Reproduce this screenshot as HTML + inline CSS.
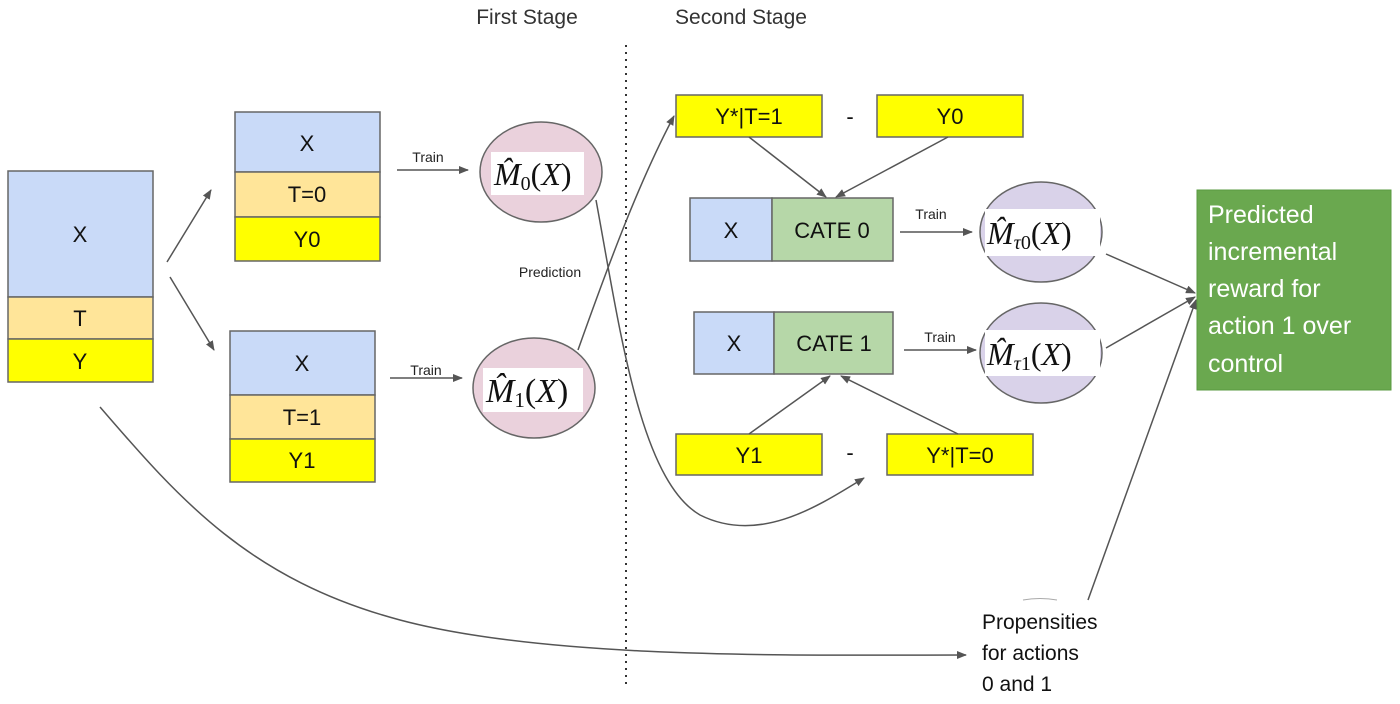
<!DOCTYPE html>
<html><head><meta charset="utf-8"><style>
html,body{margin:0;padding:0;background:#fff;}
svg{display:block;}
.s{font-family:"Liberation Sans",sans-serif;}
.m{font-family:"Liberation Serif",serif;font-style:italic;}
</style></head><body>
<svg width="1400" height="704" viewBox="0 0 1400 704" xmlns="http://www.w3.org/2000/svg">
<defs>
<marker id="a" markerWidth="10" markerHeight="8" refX="9" refY="4" orient="auto" markerUnits="userSpaceOnUse"><path d="M0,0 L10,4 L0,8 z" fill="#555"/></marker>
</defs>
<rect width="1400" height="704" fill="#fff"/>
<g class="s" fill="#222">
<text x="527" y="24" font-size="21" text-anchor="middle" fill="#333">First Stage</text>
<text x="741" y="24" font-size="21" text-anchor="middle" fill="#333">Second Stage</text>
</g>
<line x1="626" y1="45" x2="626" y2="688" stroke="#333" stroke-width="2" stroke-dasharray="2,5"/>

<g stroke="#666" stroke-width="1.5">
<rect x="8" y="171" width="145" height="126" fill="#c9daf8"/>
<rect x="8" y="297" width="145" height="42" fill="#ffe599"/>
<rect x="8" y="339" width="145" height="43" fill="#ffff00"/>
<rect x="235" y="112" width="145" height="60" fill="#c9daf8"/>
<rect x="235" y="172" width="145" height="45" fill="#ffe599"/>
<rect x="235" y="217" width="145" height="44" fill="#ffff00"/>
<rect x="230" y="331" width="145" height="64" fill="#c9daf8"/>
<rect x="230" y="395" width="145" height="44" fill="#ffe599"/>
<rect x="230" y="439" width="145" height="43" fill="#ffff00"/>
<rect x="676" y="95" width="146" height="42" fill="#ffff00"/>
<rect x="877" y="95" width="146" height="42" fill="#ffff00"/>
<rect x="690" y="198" width="82" height="63" fill="#c9daf8"/>
<rect x="772" y="198" width="121" height="63" fill="#b6d7a8"/>
<rect x="694" y="312" width="80" height="62" fill="#c9daf8"/>
<rect x="774" y="312" width="119" height="62" fill="#b6d7a8"/>
<rect x="676" y="434" width="146" height="41" fill="#ffff00"/>
<rect x="887" y="434" width="146" height="41" fill="#ffff00"/>
<ellipse cx="541" cy="172" rx="61" ry="50" fill="#ead1dc"/>
<ellipse cx="534" cy="388" rx="61" ry="50" fill="#ead1dc"/>
<ellipse cx="1041" cy="232" rx="61" ry="50" fill="#d9d2e9"/>
<ellipse cx="1041" cy="353" rx="61" ry="50" fill="#d9d2e9"/>
</g>
<rect x="1197" y="190" width="194" height="200" fill="#6aa84f" stroke="#5a9a40"/>
<rect x="491" y="152" width="93" height="43" fill="#fff"/>
<rect x="483" y="368" width="100" height="44" fill="#fff"/>
<rect x="985" y="209" width="115" height="47" fill="#fff"/>
<rect x="985" y="330" width="115" height="46" fill="#fff"/>

<g class="s" fill="#111" font-size="22" text-anchor="middle">
<text x="80" y="242">X</text>
<text x="80" y="326">T</text>
<text x="80" y="369">Y</text>
<text x="307" y="151">X</text>
<text x="307" y="202">T=0</text>
<text x="307" y="247">Y0</text>
<text x="302" y="371">X</text>
<text x="302" y="425">T=1</text>
<text x="302" y="468">Y1</text>
<text x="749" y="124">Y*|T=1</text>
<text x="850" y="124">-</text>
<text x="950" y="124">Y0</text>
<text x="731" y="238">X</text>
<text x="832" y="238">CATE 0</text>
<text x="734" y="351">X</text>
<text x="834" y="351">CATE 1</text>
<text x="749" y="463">Y1</text>
<text x="850" y="460">-</text>
<text x="960" y="463">Y*|T=0</text>
</g>
<g class="s" fill="#222" font-size="14" text-anchor="middle">
<text x="428" y="162">Train</text>
<text x="426" y="375">Train</text>
<text x="550" y="277">Prediction</text>
<text x="931" y="219">Train</text>
<text x="940" y="342">Train</text>
</g>
<g class="m" fill="#111" font-size="32">
<text x="494" y="185">M̂<tspan font-size="20" font-style="normal" dy="5">0</tspan><tspan dy="-5" font-style="normal">(</tspan>X<tspan font-style="normal">)</tspan></text>
<text x="486" y="402" font-size="34">M̂<tspan font-size="21" font-style="normal" dy="5">1</tspan><tspan dy="-5" font-style="normal">(</tspan>X<tspan font-style="normal">)</tspan></text>
<text x="987" y="244">M̂<tspan font-size="20" dy="5">τ</tspan><tspan font-size="20" font-style="normal">0</tspan><tspan dy="-5" font-style="normal">(</tspan>X<tspan font-style="normal">)</tspan></text>
<text x="987" y="365">M̂<tspan font-size="20" dy="5">τ</tspan><tspan font-size="20" font-style="normal">1</tspan><tspan dy="-5" font-style="normal">(</tspan>X<tspan font-style="normal">)</tspan></text>
</g>
<g class="s" fill="#fff" font-size="25">
<text x="1208" y="223">Predicted</text>
<text x="1208" y="260">incremental</text>
<text x="1208" y="297">reward for</text>
<text x="1208" y="334">action 1 over</text>
<text x="1208" y="372">control</text>
</g>
<g class="s" fill="#111" font-size="21">
<text x="982" y="629">Propensities</text>
<text x="982" y="660">for actions</text>
<text x="982" y="691">0 and 1</text>
</g>

<g stroke="#555" stroke-width="1.5" fill="none" marker-end="url(#a)">
<line x1="167" y1="262" x2="211" y2="190"/>
<line x1="170" y1="277" x2="214" y2="350"/>
<line x1="397" y1="170" x2="468" y2="170"/>
<line x1="390" y1="378" x2="462" y2="378"/>
<path d="M578,350 C610,260 640,180 674,116"/>
<path d="M596,200 C620,330 640,480 700,515 C760,545 820,505 864,478"/>
<path d="M100,407 C180,500 250,580 400,620 C550,660 800,655 966,655"/>
<line x1="749" y1="137" x2="826" y2="197"/>
<line x1="948" y1="137" x2="836" y2="197"/>
<line x1="749" y1="434" x2="830" y2="376"/>
<line x1="958" y1="434" x2="841" y2="376"/>
<line x1="900" y1="232" x2="972" y2="232"/>
<line x1="904" y1="350" x2="976" y2="350"/>
<line x1="1106" y1="254" x2="1195" y2="293"/>
<line x1="1106" y1="348" x2="1195" y2="297"/>
<line x1="1088" y1="600" x2="1196" y2="300"/>
</g>
<path d="M1023,600 Q1040,597 1057,600" stroke="#aaa" fill="none"/>
</svg>
</body></html>
